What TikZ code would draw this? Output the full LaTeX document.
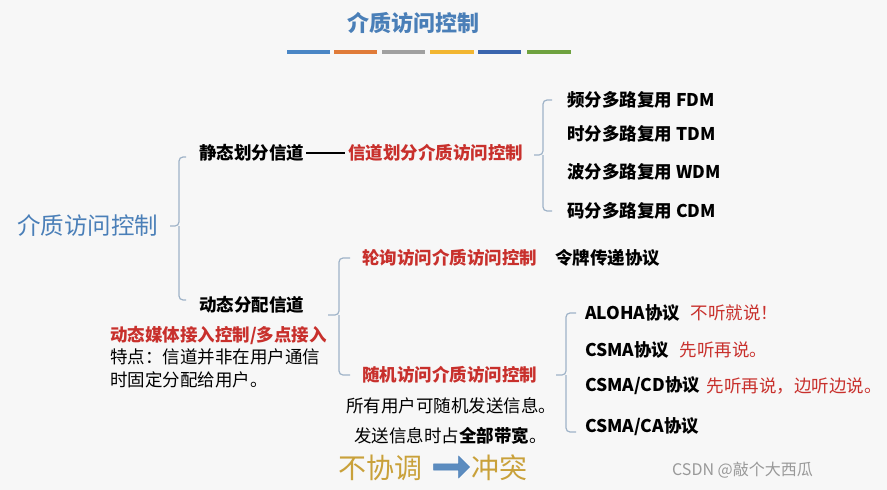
\documentclass[tikz,border=0pt]{standalone}
\usepackage{fontspec}
\setmainfont{Noto Sans CJK SC}
\usetikzlibrary{shapes.arrows}
\definecolor{tblue}{HTML}{4A7FB8}
\definecolor{tred}{HTML}{C8302C}
\definecolor{brc}{HTML}{9FB3C8}
\definecolor{gold}{HTML}{C9A13A}
\tikzset{
 t/.style={anchor=west,inner sep=0pt,font=\fontsize{17.5}{20}\selectfont\bfseries},
 tr/.style={t,text=tred},
 tn/.style={anchor=west,inner sep=0pt,font=\fontsize{17.5}{20}\selectfont},
 brace/.style={draw=brc,line width=1.2pt,rounded corners=4pt},
 bar/.style={line width=4pt}
}
\begin{document}
\begin{tikzpicture}[x=1pt,y=-1pt]
\fill[gray!6] (0,0) rectangle (887,490);
\useasboundingbox (0,0) rectangle (887,490);
\node[inner sep=0pt,text=tblue,font=\fontsize{22}{26}\selectfont\bfseries] (title) at (413,23) {介质访问控制};
\foreach \a/\b/\c in {287/330/4A86C5,334/377/E07B39,382/425/A0A0A0,430/474/F2B631,478/521/3A65AE,527/571/6FA23F}{
 \definecolor{bc}{HTML}{\c}\draw[bar,bc] (\a,52) -- (\b,52);}
\node[anchor=west,inner sep=0pt,text=tblue,font=\fontsize{23.5}{26}\selectfont] (root) at (17,226) {介质访问控制};
% brace 1
\draw[brace] (186,157) -- (179,157) -- (179,226) -- (170,226) (179,226) -- (179,300) -- (186,300);
\node[t] (stat) at (199,153) {静态划分信道};
\node[tr] (chdiv) at (348,153) {信道划分介质访问控制};
\draw[line width=1.6pt] ([xshift=2pt]stat.east) -- ([xshift=-3pt]chdiv.west);
% brace 2
\draw[brace] (552,100) -- (543,100) -- (543,155) -- (534,155) (543,155) -- (543,211) -- (552,211);
\node[t] (fdm) at (567,100) {频分多路复用 FDM};
\node[t] (tdm) at (567,134) {时分多路复用 TDM};
\node[t] (wdm) at (567,172) {波分多路复用 WDM};
\node[t] (cdm) at (567,211) {码分多路复用 CDM};
\node[t] (dyn) at (199,305) {动态分配信道};
% brace 3
\draw[brace] (350,258) -- (339,258) -- (339,315) -- (328,315) (339,315) -- (339,375) -- (350,375);
\node[tr] (poll) at (362,258) {轮询访问介质访问控制};
\node[t] (token) at (555,258) {令牌传递协议};
\node[tr] (rand) at (362,375) {随机访问介质访问控制};
\node[tn] (r1) at (346,406) {所有用户可随机发送信息。};
\node[tn] (r2) at (354,436) {发送信息时占\textbf{全部带宽}。};
\node[tr] (mac) at (110,335) {动态媒体接入控制/多点接入};
\node[tn] (f1) at (110,357) {特点：信道并非在用户通信};
\node[tn] (f2) at (110,380) {时固定分配给用户。};
% brace 4
\draw[brace] (576,313) -- (566,313) -- (566,375) -- (556,375) (566,375) -- (566,432) -- (576,432);
\node[t] (aloha) at (585,313) {ALOHA协议};
\node[tn,text=tred] at ([xshift=10pt]aloha.east) {不听就说！};
\node[t] (csma) at (585,350) {CSMA协议};
\node[tn,text=tred] at ([xshift=10pt]csma.east) {先听再说。};
\node[t] (cd) at (585,386) {CSMA/CD协议};
\node[tn,text=tred] at ([xshift=6pt]cd.east) {先听再说，边听边说。};
\node[t] (ca) at (585,427) {CSMA/CA协议};
\node[anchor=west,inner sep=0pt,text=gold,font=\fontsize{28}{30}\selectfont] (nc) at (338,468) {不协调};
\node[single arrow,fill=tblue!90,draw=tblue,minimum height=36pt,minimum width=22pt,single arrow head extend=3pt,inner sep=1pt] (arr) at (450,467) {};
\node[anchor=west,inner sep=0pt,text=gold,font=\fontsize{28}{30}\selectfont] (ct) at (471,468) {冲突};
\node[anchor=west,inner sep=0pt,text=gray!80,font=\fontsize{16}{18}\selectfont] (wm) at (672,470) {CSDN @敲个大西瓜};
\end{tikzpicture}
\end{document}
